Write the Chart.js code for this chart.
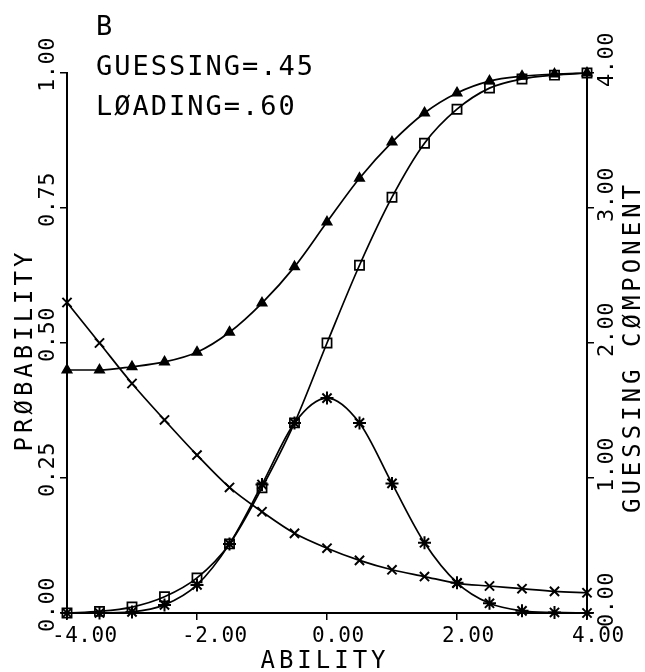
<!DOCTYPE html>
<html><head><meta charset="utf-8">
<script src="https://cdn.jsdelivr.net/npm/chart.js@4"></script>
<style>html,body{margin:0;padding:0;background:#fff}#wrap{width:645px;height:672px}</style>
</head><body><div id="wrap"><canvas id="c" width="645" height="672"></canvas></div>
<script>
const abilities = [-4,-3.5,-3,-2.5,-2,-1.5,-1,-0.5,0,0.5,1,1.5,2,2.5,3,3.5,4];
const probWithGuessing = [0.45,0.45,0.456,0.465,0.483,0.52,0.574,0.641,0.724,0.805,0.872,0.926,0.963,0.985,0.994,0.998,1.0];
const probNoGuessing = [0.0,0.003,0.011,0.03,0.065,0.128,0.232,0.352,0.5,0.644,0.77,0.87,0.933,0.972,0.989,0.996,1.0];
const peakCurve = [0.0,0.0,0.002,0.015,0.052,0.128,0.238,0.352,0.398,0.352,0.24,0.13,0.056,0.018,0.004,0.001,0.0];
const guessingComponent = [2.30,2.00,1.70,1.43,1.17,0.93,0.75,0.59,0.48,0.39,0.32,0.27,0.22,0.20,0.18,0.16,0.15];

const xTickValues = [-4,-2,0,2,4];
const xTickLabels = ['-4.00','-2.00','0.00','2.00','4.00'];
const probTickValues = [0,0.25,0.5,0.75,1];
const probTickLabels = ['0.00','0.25','0.50','0.75','1.00'];
const guessTickValues = [0,1,2,3,4];
const guessTickLabels = ['0.00','1.00','2.00','3.00','4.00'];

const panelLabel = 'B';
const noteLines = ['GUESSING=.45','LØADING=.60'];
const xTitle = 'ABILITY';
const yTitle = 'PRØBABILITY';
const y1Title = 'GUESSING CØMPONENT';

const FONT = '"DejaVu Sans Mono", "Liberation Mono", monospace';

function series(vals, axis, style, fill, r, bw) {
  return {
    data: abilities.map((x, i) => ({x: x, y: vals[i]})),
    yAxisID: axis,
    borderColor: '#000', borderWidth: 1.7,
    pointStyle: style, pointRadius: r,
    pointBackgroundColor: fill, pointBorderColor: '#000', pointBorderWidth: bw,
    cubicInterpolationMode: 'monotone', clip: false, fill: false
  };
}

function txt(ctx, s, x, y, font, align, baseline, rot, spacing) {
  ctx.save();
  ctx.translate(x, y);
  if (rot) ctx.rotate(rot);
  ctx.font = font;
  try { ctx.letterSpacing = spacing || '0px'; } catch (e) {}
  ctx.textAlign = align; ctx.textBaseline = baseline;
  ctx.fillStyle = '#000';
  ctx.fillText(s, 0, 0);
  ctx.restore();
}

const textPlugin = {
  id: 'textPlugin',
  afterDraw(chart) {
    const ctx = chart.ctx;
    const sx = chart.scales.x, sy = chart.scales.y, sy1 = chart.scales.y1;
    const bottom = chart.chartArea.bottom;
    xTickValues.forEach((v, i) => {
      txt(ctx, xTickLabels[i], sx.getPixelForValue(v) - 15, bottom + 29, '21px ' + FONT, 'left', 'alphabetic', 0, '0.5px');
    });
    probTickValues.forEach((v, i) => {
      txt(ctx, probTickLabels[i], sx.left - 13, sy.getPixelForValue(v) + 19, '22px ' + FONT, 'left', 'alphabetic', -Math.PI/2, '0.5px');
    });
    guessTickValues.forEach((v, i) => {
      txt(ctx, guessTickLabels[i], sx.right + 26, sy1.getPixelForValue(v) + 14, '22px ' + FONT, 'left', 'alphabetic', -Math.PI/2, '0.5px');
    });
    txt(ctx, xTitle, (sx.left + sx.right) / 2 - 2, bottom + 55, '24px ' + FONT, 'center', 'alphabetic', 0, '4px');
    txt(ctx, yTitle, 32, 350, '24px ' + FONT, 'center', 'alphabetic', -Math.PI/2, '4px');
    txt(ctx, y1Title, 640, 347, '24px ' + FONT, 'center', 'alphabetic', -Math.PI/2, '4px');
    txt(ctx, panelLabel, 96, 35, '27px ' + FONT, 'left', 'alphabetic', 0, '2px');
    noteLines.forEach((s, i) => {
      txt(ctx, s, 96, 75 + 40 * i, '27px ' + FONT, 'left', 'alphabetic', 0, '2px');
    });
  }
};

const axisCommon = {
  grid: { drawOnChartArea: false, drawTicks: true, tickLength: 7, color: '#000', lineWidth: 1.5 },
  border: { display: true, color: '#000', width: 2 },
  ticks: { display: false }
};

new Chart(document.getElementById('c'), {
  type: 'line',
  data: {
    datasets: [
      series(probWithGuessing, 'y', 'triangle', '#000', 5.5, 1.5),
      series(probNoGuessing, 'y', 'rect', 'rgba(0,0,0,0)', 6.5, 1.7),
      series(peakCurve, 'y', 'star', '#000', 6.5, 2),
      series(guessingComponent, 'y1', 'crossRot', '#000', 6.5, 2)
    ]
  },
  options: {
    responsive: false,
    animation: false,
    layout: { padding: { left: 60, right: 51, top: 73, bottom: 52 } },
    plugins: { legend: { display: false }, tooltip: { enabled: false } },
    scales: {
      x: Object.assign({ type: 'linear', position: 'bottom', min: -4, max: 4, afterBuildTicks: s => { s.ticks = xTickValues.map(v => ({value: v})); } }, axisCommon),
      y: Object.assign({ type: 'linear', position: 'left', min: 0, max: 1, afterBuildTicks: s => { s.ticks = probTickValues.map(v => ({value: v})); } }, axisCommon),
      y1: Object.assign({ type: 'linear', position: 'right', min: 0, max: 4, afterBuildTicks: s => { s.ticks = guessTickValues.map(v => ({value: v})); } }, axisCommon)
    }
  },
  plugins: [textPlugin]
});
</script>
</body></html>
